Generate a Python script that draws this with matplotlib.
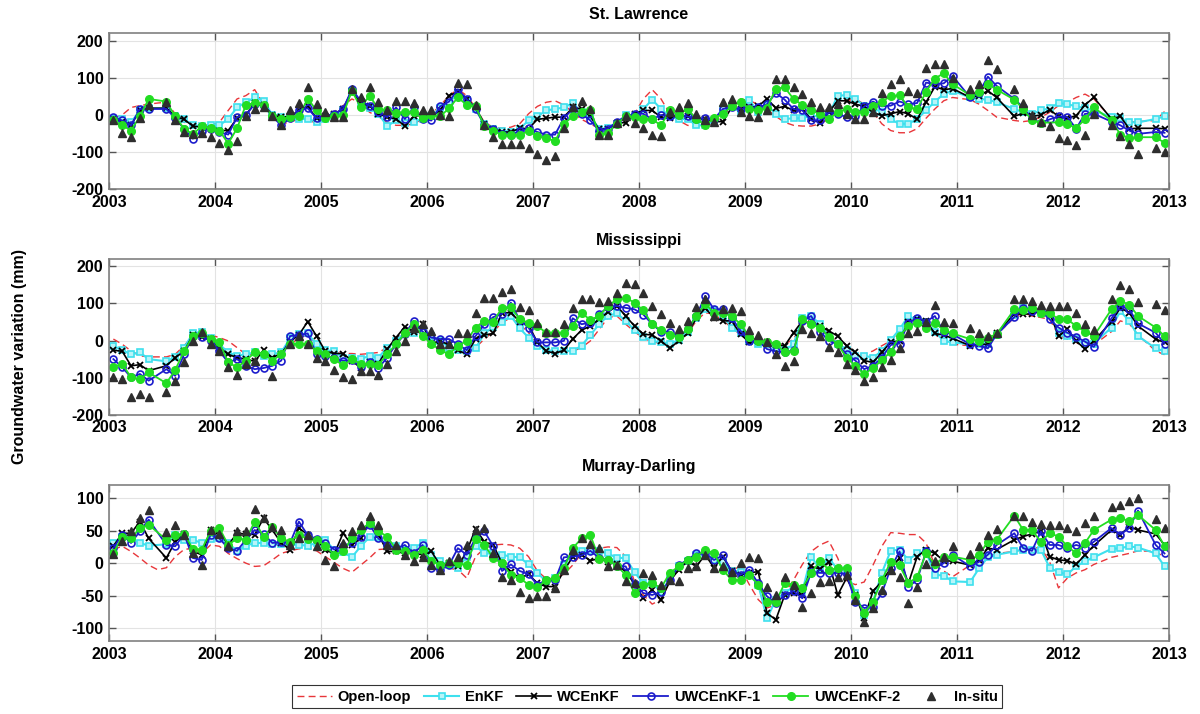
import numpy as np
import matplotlib
matplotlib.use("Agg")
import matplotlib.pyplot as plt
from matplotlib.lines import Line2D

nan = np.nan
plt.rcParams['font.family'] = ['Liberation Sans', 'DejaVu Sans']
plt.rcParams['font.weight'] = 'bold'

months = np.arange(120)
years = 2003 + (months + 0.5) / 12.0

titles = ["St. Lawrence", "Mississippi", "Murray-Darling"]
series_names = ["Open-loop", "EnKF", "WCEnKF", "UWCEnKF-1", "UWCEnKF-2", "In-situ"]
xticks = list(range(2003, 2014))

# ---------------- St. Lawrence ----------------
sl_openloop = [-9, 0, 20, 25, 29, 32, 34, 3, -20, -24, -27, -28,
               -20, 12, 43, 52, 68, 29, -4, -24, -20, -11, -11, -24,
               -11, 9, 25, 43, 32, 7, -4, -21, -28, -28, -24, -11,
               3, 25, 52, 69, 52, 20, -20, -33, -36, -33, -24, 3,
               23, 34, 38, 27, 7, -12, -24, -37, -37, -26, -11, 3,
               43, 68, 43, 3, -15, -28, -33, -30, -20, 0, 20, 43,
               38, 29, 16, -4, -20, -28, -30, -30, -24, -11, 16, 38,
               43, 29, 7, -24, -42, -48, -48, -37, -9, 16, 38, 47,
               nan, 41, 29, 12, -6, nan, -15, -18, -15, -6, 7, 25,
               34, 47, 56, 43, nan, -9, -18, -20, -18, nan, -15, 9]
sl_enkf = [-11, -11, -20, 12, 18, nan, 18, -4, -12, -28, -30, -28,
           -28, -11, 20, 34, 47, 38, 0, -6, -9, -11, -11, -18,
           -11, -4, 12, 65, 32, 18, 3, -30, -15, -21, -18, -11,
           -4, 18, 32, 60, 41, 16, -24, -37, -42, -46, -37, -15,
           -4, 12, 16, 20, 32, 7, -4, -37, -36, -24, 0, -4,
           16, 41, 16, -4, -11, -11, -28, -28, -15, 16, 23, 7,
           40, 7, 27, 3, -11, -9, -9, -2, -4, 0, 52, 53,
           43, 25, 16, 9, -12, -24, -24, -11, 12, 36, 56, 65,
           nan, 47, 43, 41, 34, nan, 16, 7, 3, 12, 18, 32,
           29, 23, 18, 12, nan, -6, -9, -20, -20, nan, -11, -4]
sl_wcenkf = [-11, -18, -28, 13, 18, nan, 18, -4, -12, -30, -33, -37,
             -42, -42, -9, 0, 32, 27, 0, -6, -4, 12, 23, -9,
             -4, 3, 16, 65, 29, 25, 3, -6, -11, -30, -4, 0,
             -4, 12, 52, 62, 43, 20, -24, -37, -46, -46, -36, -37,
             -12, -9, -6, -6, 20, 16, -4, -39, -37, -21, -21, 3,
             12, 12, -6, -9, 0, -4, -12, -12, -18, -18, 20, 16,
             20, 23, 44, 18, 23, 12, 16, -12, -21, 7, 38, 38,
             29, 23, 7, -2, 3, 9, 3, -12, 34, 76, 68, 71,
             nan, 47, 52, 65, 47, nan, -4, 5, -4, 0, 14, -4,
             -9, -2, 27, 47, nan, -11, -4, -37, -36, nan, -36, -37]
sl_uwc1 = [-6, -15, -28, 16, 16, nan, 16, -9, -37, -64, -42, -37,
           -46, -53, -6, 0, 29, 25, -4, -28, -9, 12, 18, -9,
           -4, 3, 16, 69, 38, 25, 9, -6, 20, -11, 20, -12,
           -15, 23, 36, 69, 43, 16, -27, -37, -51, -53, -44, -36,
           -46, -53, -53, -9, 16, 3, -15, -42, -37, -18, -4, 3,
           3, -12, 0, -4, 0, -4, -11, -9, -12, 16, 20, 16,
           18, 20, 29, 59, 41, 16, 12, -15, -15, 7, 3, -6,
           -2, 23, 36, 23, 25, 36, 29, 32, 87, 83, 85, 105,
           nan, 47, 60, 103, 78, nan, 43, 20, -11, -21, -12, -4,
           -6, -37, 3, 3, nan, -18, -28, -42, -51, nan, -46, -48]
sl_uwc2 = [-15, -28, -42, -4, 43, nan, 36, -4, -37, -52, -30, -36,
           -42, -77, -36, 27, 32, 27, -4, -11, -6, -4, 44, 12,
           -9, -4, 0, 65, 20, 52, 16, 12, 5, 7, 7, -9,
           0, -4, 18, 47, 27, 23, -30, -44, -53, -55, -53, -44,
           -57, -62, -71, -24, -4, 9, 14, -53, -48, -24, -4, -6,
           -11, -12, -28, 12, 0, 16, -11, -28, -9, 3, 23, 36,
           16, 12, 18, 71, 74, 43, 27, 12, 3, -11, 7, 16,
           9, 9, 23, 36, 50, 53, 20, 16, 62, 98, 112, 83,
           nan, 53, 62, 83, 68, nan, 41, 16, -15, -21, nan, -20,
           -24, -36, -11, 20, nan, -15, -53, -62, -60, nan, -60, -75]
sl_insitu = [-15, -48, -60, -9, 27, nan, 36, -15, -46, -52, -48, -60,
             -76, -95, -71, -4, 16, 20, -4, -28, 12, 32, 76, 29,
             7, -6, -6, 69, 47, 74, 36, 12, 38, 38, 32, 14,
             14, 0, -4, 87, 83, 27, -27, -60, -77, -77, -77, -89,
             -104, -122, -111, -35, 20, 38, 16, -53, -53, -21, -4, -21,
             -36, -55, -57, 9, 20, 32, 3, -15, -20, 34, 43, 7,
             -4, -6, 12, 96, 96, 76, 56, 34, 20, 20, 29, 3,
             -11, -11, 7, 60, 83, 96, 65, 60, 127, 136, 136, 100,
             nan, 69, 83, 148, 124, nan, 71, 32, 0, -20, -30, -62,
             -68, -82, -53, 3, nan, -28, -57, -77, -104, nan, -89, -100]

# ---------------- Mississippi ----------------
ms_openloop = [4, -10, -28, -41, -44, -44, -44, -37, -14, 12, 19, 15,
               8, -1, -19, -37, -37, -37, -37, -32, -10, 6, 15, -10,
               -28, -33, -35, -35, -37, -35, -32, -19, -1, 21, 30, 24,
               6, -10, -26, -32, -32, -19, 4, 24, 48, 62, 44, 21,
               -5, -26, -29, -29, -29, -19, -1, 30, 62, 66, 44, 24,
               6, -3, -8, -8, -1, 19, 53, 75, 71, 54, 35, 15,
               1, -5, -8, -10, -10, 4, 46, 60, 44, 17, -8, -26,
               -37, -37, -28, -14, -1, 26, 53, 53, 44, 17, -1, -10,
               nan, -14, -14, -10, 15, nan, 62, 75, 66, 62, 57, 15,
               4, -5, -19, -12, nan, 24, 53, 46, 15, nan, -28, -38]
ms_enkf = [-14, -26, -37, -32, -50, nan, -56, -44, -19, 19, 24, 6,
           -10, -32, -41, -37, -32, -41, -37, -32, 6, 17, 19, -10,
           -26, -29, -46, -46, -50, -41, -46, -19, -1, 21, 21, 28,
           12, -1, -19, -26, -29, -21, 19, 37, 51, 66, 33, 8,
           -14, -26, -28, -28, -28, -14, 15, 44, 67, 73, 53, 28,
           10, -1, -5, -8, 1, 24, 60, 84, 81, 66, 35, 19,
           -1, -10, -10, -19, -26, -10, 62, 66, 44, 12, -10, -26,
           -41, -41, -46, -28, 1, 30, 66, 55, 51, 24, -1, -5,
           nan, -10, -10, -10, 15, nan, 69, 87, 84, 75, 71, 21,
           12, 4, -10, -8, nan, 35, 79, 53, 12, nan, -21, -29]
ms_wcenkf = [-26, -29, -68, -65, -81, nan, -68, -46, -29, 15, 10, 4,
             -19, -37, -46, -50, -56, -26, -46, -35, -3, 15, 51, 12,
             -29, -35, -35, -54, -74, -59, -62, -23, 8, 37, 24, 44,
             -8, -1, -12, -26, -37, 4, 15, 19, 75, 75, 51, 42,
             -5, -28, -35, -26, 4, 28, 39, 57, 77, 93, 66, 39,
             17, 15, -1, -21, -1, 19, 60, 87, 62, 53, 53, 17,
             -5, -1, -3, -12, -14, 21, 53, 44, 39, 26, 12, -14,
             -32, -54, -59, -32, -4, -1, 51, 57, 53, 19, 15, 6,
             nan, -14, -10, -10, 19, nan, 72, 71, 72, 79, 75, 12,
             30, -1, -23, -1, nan, 51, 88, 75, 39, nan, 4, -5]
ms_uwc1 = [-50, -72, -99, -90, -108, nan, -77, -95, -37, 12, 10, -1,
           -28, -59, -50, -68, -77, -74, -68, -54, 12, 15, 19, -37,
           -41, -48, -54, -53, -70, -59, -74, -46, -10, 17, 53, 24,
           8, 4, 4, -10, -26, 12, 44, 63, 72, 102, 55, 35,
           -5, -5, -5, -1, 60, 44, 48, 71, 90, 93, 88, 84,
           70, 44, 24, 24, 10, 30, 66, 120, 84, 84, 62, 26,
           -1, -1, -23, -29, -32, -26, 53, 66, 24, -1, -10, -37,
           -54, -77, -68, -46, -12, -8, 48, 60, 51, 66, 24, 17,
           nan, -10, -14, -21, 17, nan, 63, 88, 79, 79, 57, 35,
           21, 10, -3, -17, nan, 60, 93, 84, 46, nan, 21, -8]
ms_uwc2 = [-71, -63, -99, -104, -86, nan, -115, -79, -29, 12, 21, 4,
           -5, -59, -72, -54, -32, -35, -54, -37, -8, -10, -8, -29,
           -37, -50, -67, -50, -63, -62, -65, -37, -10, 19, 44, 12,
           -8, -26, -37, -14, -1, 35, 53, 51, 88, 90, 57, 48,
           39, 21, 21, 21, 39, 75, 55, 66, 93, 111, 115, 102,
           81, 44, 28, 15, 10, 30, 66, 99, 75, 75, 66, 44,
           10, -1, -3, -8, -32, -29, 57, 44, 35, 10, -10, -46,
           -68, -90, -74, -53, -30, 12, 39, 48, 35, 48, 28, 19,
           nan, 4, -1, 8, 17, nan, 84, 81, 87, 75, 75, 57,
           57, 39, 24, 12, nan, 84, 106, 97, 66, nan, 35, 12]
ms_insitu = [-97, -104, -153, -144, -153, nan, -139, -110, -59, -1, 24, -10,
             -28, -72, -92, -63, -56, nan, -96, nan, -8, 12, -10, -47,
             -54, -80, -97, -104, -81, -81, -92, -63, -29, -1, 35, 44,
             26, -8, -10, 19, 21, 75, 115, 115, 130, 140, 90, 81,
             46, 23, 23, 44, 88, 111, 111, 104, 106, 129, 155, 151,
             129, 93, 72, 46, 30, 53, 90, 113, 66, 84, 87, 79,
             28, 15, -3, -37, -68, -56, 30, 19, 12, -17, -32, -62,
             -79, -108, -99, -71, -52, -21, 21, 26, 51, 97, 51, 48,
             nan, 33, 21, 12, 19, nan, 111, 111, 106, 97, 93, 93,
             93, 75, 44, 28, nan, 111, 149, 138, 104, nan, 99, 81]

# ---------------- Murray-Darling ----------------
md_openloop = [21, 26, 18, 8, -3, -10, -7, 10, 21, 23, 15, 28,
               26, 15, 7, 0, -5, -4, 5, 15, 19, 22, 23, 19,
               10, 1, -8, -14, -3, 8, 21, 22, 22, 18, 15, 13,
               8, -5, -8, -10, -23, 10, 23, 28, 29, 28, 23, 10,
               -12, -24, -23, -17, -3, 15, 21, 23, 25, 24, 10, -28,
               -49, -63, -56, -28, -5, 5, 13, 15, 5, -3, -7, -8,
               -33, -56, -69, -64, -46, -26, -2, 18, 28, 34, 8, -28,
               -33, -29, -3, 26, 47, 46, 44, 44, 31, -3, -12, -21,
               nan, -3, 5, 10, 15, nan, 18, 21, 23, 24, 2, -38,
               -23, -15, -10, -2, nan, 9, 12, 15, 19, nan, 18, 9]
md_enkf = [31, 41, 38, 31, 27, nan, 29, 43, 36, 36, 31, 37,
           38, 31, 19, 27, 31, 31, 29, 29, 29, 28, 27, 31,
           36, 20, 17, 9, 26, 40, 40, 28, 26, 21, 23, 31,
           13, 3, -3, -8, 10, 27, 15, 15, 13, 10, 9, -2,
           -15, -28, -23, -3, 15, 19, 18, 18, 15, 8, 8, -14,
           -31, -31, -44, -24, -5, 4, 13, 15, 5, 2, -12, -13,
           -18, -33, -85, -56, -46, -36, -43, 10, -9, 8, -10, -10,
           -46, -80, -59, -15, 19, 21, 5, 15, 18, -18, -19, -28,
           nan, -29, -8, 9, 13, nan, 18, 21, 21, 21, -7, -14,
           -17, -5, 3, 9, nan, 22, 23, 26, 24, nan, 15, -5]
md_wcenkf = [26, 46, 46, 64, 38, nan, 8, 33, 45, 18, 13, 51,
             49, 28, 46, 45, 44, 69, 51, 31, 21, 54, 44, 36,
             21, 14, 46, 28, 38, 65, 44, 18, 18, 15, 15, 13,
             18, -3, 0, -5, 18, 53, 33, 28, 0, -13, -23, -17,
             -31, -36, -36, -12, 10, 13, 4, 7, 2, -2, -13, -32,
             -54, -41, -56, -28, -10, 3, -5, 13, -7, 10, -12, -18,
             -15, -13, -77, -87, -49, -46, -49, -5, -9, 2, -49, -23,
             -49, -85, -43, -28, -8, 8, -31, 10, 21, 15, 4, 3,
             nan, -3, 5, 23, 21, nan, 36, 41, 45, 49, 10, 5,
             4, -2, 13, 27, nan, 51, 44, 56, 51, nan, 45, 28]
md_uwc1 = [23, 44, 31, 49, 67, nan, 28, 26, 45, 8, 5, 44,
           38, 23, 19, 36, 51, 45, 31, 33, 31, 64, 43, 37,
           31, 21, 26, 31, 41, 59, 38, 28, 23, 28, 15, 28,
           -8, -10, -3, 23, 13, 38, 49, 26, -12, -2, -12, -17,
           -33, -26, -26, 9, 10, 12, 19, 8, 5, -4, -5, -32,
           -46, -49, -44, -26, -3, 5, 15, 15, 5, 12, -13, -18,
           -10, -31, -51, -62, -49, -43, -54, -14, -15, -15, -15, -17,
           -59, -69, -67, -46, -8, 18, -36, -26, 18, -8, 0, 13,
           nan, -5, 2, 13, 28, nan, 46, 23, 19, 49, 28, 28,
           23, 28, 24, 33, nan, 54, 44, 54, 81, nan, 28, 15]
md_uwc2 = [15, 41, 38, 54, 59, nan, 36, 44, 45, 22, 21, 49,
           54, 28, 38, 36, 64, 41, 56, 38, 33, 44, 37, 36,
           26, 13, 18, 38, 51, 62, 49, 41, 21, 18, 13, 21,
           3, -3, 0, 0, -3, 37, 28, 8, 0, -18, -23, -33,
           -37, -26, -23, -7, 23, 38, 43, 7, 5, -4, -18, -46,
           -33, -31, -38, -15, -5, 5, 10, 21, 15, -10, -26, -26,
           -18, -33, -59, -59, -31, -33, -38, -15, 3, -10, -8, -8,
           -51, -77, -59, -26, 2, -3, -31, -21, 15, -2, 9, 10,
           nan, 5, 13, 33, 36, nan, 73, 51, 51, 33, 46, 41,
           26, 15, 31, 51, nan, 67, 69, 65, 74, nan, 51, 26]
md_insitu = [14, 34, 50, 70, 82, nan, 48, 59, 44, 15, -3, 51,
             45, 26, 49, 49, 84, 69, 56, 51, 28, 38, 44, 26,
             5, -5, 31, 49, 58, 72, 58, 28, 28, 13, 4, 10,
             -3, -10, 4, 10, 28, 51, 54, 15, -21, -26, -45, -54,
             -51, -51, -38, -10, 21, 38, 29, 23, -5, -3, -28, -31,
             -15, -18, -33, -26, -28, -7, -5, 13, -7, -5, -14, 0,
             9, 8, -36, -49, -21, -33, -67, -46, -29, -28, -21, -18,
             -56, -90, -69, -41, -11, -21, -62, -36, -2, 3, 9, 27,
             nan, 14, 27, 43, 53, nan, 73, 72, 63, 60, 58, 59,
             54, 49, 62, 72, nan, 86, 90, 96, 100, nan, 68, 54]

panels = [
    (sl_openloop, sl_enkf, sl_wcenkf, sl_uwc1, sl_uwc2, sl_insitu),
    (ms_openloop, ms_enkf, ms_wcenkf, ms_uwc1, ms_uwc2, ms_insitu),
    (md_openloop, md_enkf, md_wcenkf, md_uwc1, md_uwc2, md_insitu),
]
ylims = [(-200, 220), (-200, 220), (-120, 120)]
yticks = [[-200, -100, 0, 100, 200], [-200, -100, 0, 100, 200], [-100, -50, 0, 50, 100]]

styles = [
    dict(color='#e8363a', ls=(0, (5, 3)), lw=1.0, marker=None),
    dict(color='#3ee0ee', ls='-', lw=1.5, marker='s', ms=3.8, mfc='#b8f4f8', mec='#3ee0ee', mew=1.2),
    dict(color='black', ls='-', lw=1.2, marker='x', ms=4.5, mew=1.3),
    dict(color='#1c1ccc', ls='-', lw=1.3, marker='o', ms=5, mfc='none', mew=1.2),
    dict(color='#22dd22', ls='-', lw=1.3, marker='o', ms=5.5, mfc='#22dd22', mec='#22dd22'),
    dict(color='#2e2e2e', ls='none', lw=0, marker='^', ms=5.8),
]

fig = plt.figure(figsize=(12, 7.14), dpi=100)
bottoms = [0.735, 0.419, 0.102]
for i in range(3):
    ax = fig.add_axes([0.0908, bottoms[i], 0.8833, 0.2185])
    for s, st in zip(panels[i], styles):
        y = np.array(s, dtype=float)
        m = np.isfinite(y)
        ax.plot(years[m], y[m], **st)
    ax.set_xlim(2003, 2013)
    ax.set_ylim(*ylims[i])
    ax.set_xticks(xticks)
    ax.set_yticks(yticks[i])
    ax.set_xticklabels([str(t) for t in xticks], fontweight='bold', fontsize=11.5)
    ax.set_yticklabels([str(t) for t in yticks[i]], fontweight='bold', fontsize=11.5)
    ax.grid(True, color='#e3e3e3', lw=0.8)
    ax.set_axisbelow(True)
    ax.tick_params(direction='in', top=True, right=True, length=5, width=1, color='#555555', pad=4)
    for sp in ax.spines.values():
        sp.set_color('#808080')
        sp.set_linewidth(1.2)
    ax.set_title(titles[i], fontweight='bold', fontsize=11.5, pad=10)

fig.text(0.016, 0.5, 'Groundwater variation (mm)', rotation=90, va='center', ha='center',
         fontweight='bold', fontsize=11.5)

handles = []
for name, st in zip(series_names, styles):
    handles.append(Line2D([], [], label=name, **st))
leg = fig.legend(handles=handles, loc='center', bbox_to_anchor=(0.5395, 0.024), ncol=6,
                 frameon=True, fancybox=False, edgecolor='black',
                 prop={'weight': 'bold', 'size': 10.5}, handlelength=2.4, columnspacing=0.9,
                 handletextpad=0.4, borderpad=0.3)
leg.get_frame().set_linewidth(0.8)

fig.savefig('out.png', dpi=100)
